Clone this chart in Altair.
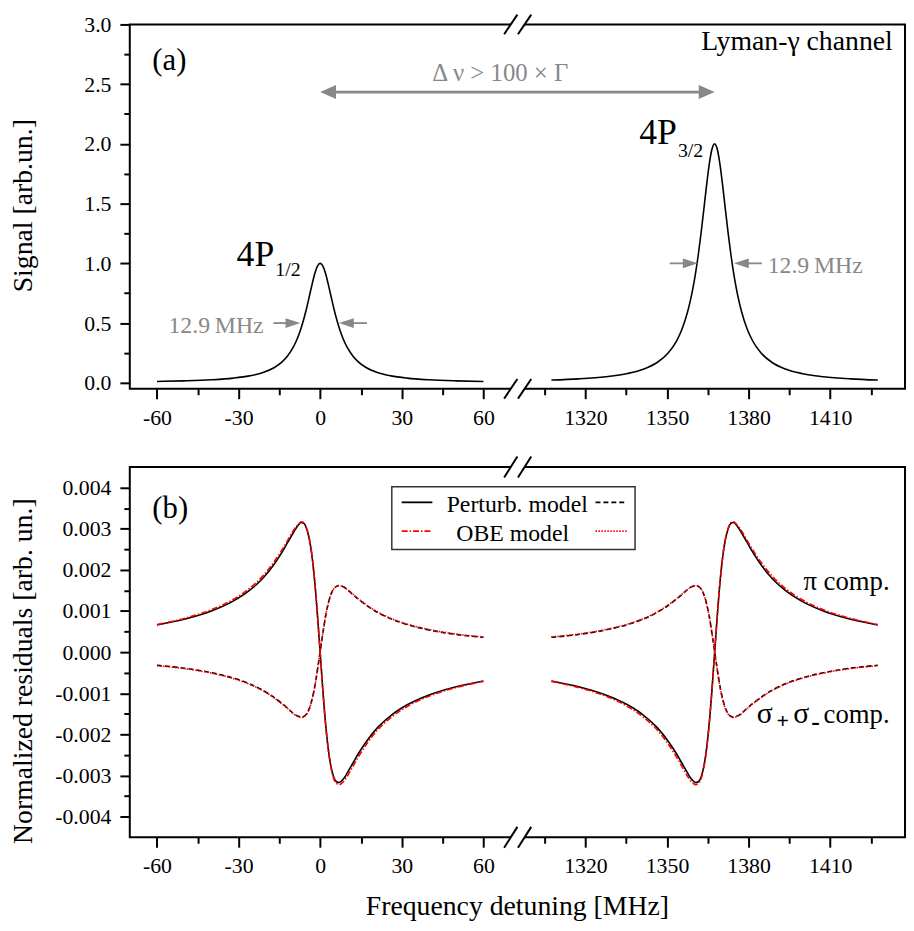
import altair as alt
import pandas as pd

FONT = "Liberation Serif"
GREY = "#888888"
RED = "#ff0000"

# ---------------- data ----------------
# detuning from line centre [MHz]
detuning = [-60, -50, -40, -32, -26, -21, -17, -14, -12, -10, -9, -8, -7, -6, -5, -4, -3, -2, -1, 0,
            1, 2, 3, 4, 5, 6, 7, 8, 9, 10, 12, 14, 17, 21, 26, 32, 40, 50, 60]
centre_4p12 = 0.0
centre_4p32 = 1367.5
break_shift = 1222.5  # gap removed by the broken axis (72.5 .. 1295 MHz)

signal_4p12 = [0.0114, 0.0164, 0.0253, 0.0390, 0.0580, 0.0862, 0.1258, 0.1751, 0.2241, 0.2938, 0.3393,
               0.3940, 0.4592, 0.5361, 0.6246, 0.7222, 0.8221, 0.9123, 0.9765, 1.0000, 0.9765, 0.9123,
               0.8221, 0.7222, 0.6246, 0.5361, 0.4592, 0.3940, 0.3393, 0.2938, 0.2241, 0.1751, 0.1258,
               0.0862, 0.0580, 0.0390, 0.0253, 0.0164, 0.0114]
signal_4p32 = [0.023, 0.033, 0.051, 0.078, 0.116, 0.172, 0.252, 0.350, 0.448, 0.588, 0.679, 0.788,
               0.918, 1.072, 1.249, 1.444, 1.644, 1.825, 1.953, 2.000, 1.953, 1.825, 1.644, 1.444,
               1.249, 1.072, 0.918, 0.788, 0.679, 0.588, 0.448, 0.350, 0.252, 0.172, 0.116, 0.078,
               0.051, 0.033, 0.023]

pi_pert_4p12 = [0.00066, 0.00080, 0.00100, 0.00124, 0.00150, 0.00180, 0.00213, 0.00243, 0.00266, 0.00289,
                0.00300, 0.00309, 0.00315, 0.00313, 0.00300, 0.00275, 0.00233, 0.00171, 0.00090, -0.00002,
                -0.00094, -0.00175, -0.00237, -0.00279, -0.00304, -0.00315, -0.00317, -0.00312, -0.00304,
                -0.00293, -0.00270, -0.00247, -0.00217, -0.00184, -0.00154, -0.00128, -0.00104, -0.00084,
                -0.00070]
pi_obe_4p12 = [0.00067, 0.00082, 0.00103, 0.00128, 0.00155, 0.00186, 0.00219, 0.00249, 0.00271, 0.00294,
               0.00303, 0.00311, 0.00317, 0.00315, 0.00302, 0.00276, 0.00234, 0.00171, 0.00090, -0.00002,
               -0.00095, -0.00176, -0.00239, -0.00282, -0.00308, -0.00319, -0.00322, -0.00318, -0.00311,
               -0.00301, -0.00278, -0.00255, -0.00224, -0.00190, -0.00159, -0.00132, -0.00107, -0.00086,
               -0.00071]
sig_pert_4p12 = [-0.00032, -0.00039, -0.00050, -0.00063, -0.00077, -0.00093, -0.00110, -0.00125, -0.00136,
                 -0.00148, -0.00153, -0.00156, -0.00158, -0.00156, -0.00150, -0.00137, -0.00115, -0.00084,
                 -0.00043, 0.00002, 0.00047, 0.00088, 0.00119, 0.00141, 0.00154, 0.00160, 0.00162, 0.00160,
                 0.00157, 0.00152, 0.00140, 0.00129, 0.00114, 0.00097, 0.00081, 0.00067, 0.00054, 0.00043,
                 0.00036]
sig_obe_4p12 = [-0.00033, -0.00040, -0.00051, -0.00064, -0.00078, -0.00094, -0.00111, -0.00126, -0.00137,
                -0.00149, -0.00154, -0.00157, -0.00159, -0.00157, -0.00151, -0.00138, -0.00116, -0.00085,
                -0.00043, 0.00002, 0.00047, 0.00088, 0.00119, 0.00141, 0.00154, 0.00160, 0.00162, 0.00160,
                0.00157, 0.00152, 0.00141, 0.00130, 0.00115, 0.00098, 0.00082, 0.00068, 0.00055, 0.00044,
                0.00037]
pi_pert_4p32 = [-0.00070, -0.00084, -0.00104, -0.00128, -0.00154, -0.00184, -0.00217, -0.00247, -0.00270,
                -0.00293, -0.00304, -0.00312, -0.00317, -0.00315, -0.00304, -0.00279, -0.00237, -0.00175,
                -0.00094, -0.00002, 0.00090, 0.00171, 0.00233, 0.00275, 0.00300, 0.00313, 0.00315, 0.00309,
                0.00300, 0.00289, 0.00266, 0.00243, 0.00213, 0.00180, 0.00150, 0.00124, 0.00100, 0.00080,
                0.00066]
pi_obe_4p32 = [-0.00071, -0.00086, -0.00107, -0.00132, -0.00159, -0.00190, -0.00224, -0.00255, -0.00278,
               -0.00301, -0.00311, -0.00318, -0.00322, -0.00319, -0.00308, -0.00282, -0.00239, -0.00176,
               -0.00095, -0.00002, 0.00090, 0.00171, 0.00234, 0.00276, 0.00302, 0.00315, 0.00317, 0.00311,
               0.00303, 0.00294, 0.00271, 0.00249, 0.00219, 0.00186, 0.00155, 0.00128, 0.00103, 0.00082,
               0.00067]
sig_pert_4p32 = [0.00036, 0.00043, 0.00054, 0.00067, 0.00081, 0.00097, 0.00114, 0.00129, 0.00140, 0.00152,
                 0.00157, 0.00160, 0.00162, 0.00160, 0.00154, 0.00141, 0.00119, 0.00088, 0.00047, 0.00002,
                 -0.00043, -0.00084, -0.00115, -0.00137, -0.00150, -0.00156, -0.00158, -0.00156, -0.00153,
                 -0.00148, -0.00136, -0.00125, -0.00110, -0.00093, -0.00077, -0.00063, -0.00050, -0.00039,
                 -0.00032]
sig_obe_4p32 = [0.00037, 0.00044, 0.00055, 0.00068, 0.00082, 0.00098, 0.00115, 0.00130, 0.00141, 0.00152,
                0.00157, 0.00160, 0.00162, 0.00160, 0.00154, 0.00141, 0.00119, 0.00088, 0.00047, 0.00002,
                -0.00043, -0.00085, -0.00116, -0.00138, -0.00151, -0.00157, -0.00159, -0.00157, -0.00154,
                -0.00149, -0.00137, -0.00126, -0.00111, -0.00094, -0.00078, -0.00064, -0.00051, -0.00040,
                -0.00033]

x_ticks_real = [-60, -45, -30, -15, 0, 15, 30, 45, 60, 1305, 1320, 1335, 1350, 1365, 1380, 1395, 1410, 1425]
y_ticks_top = [0, 0.25, 0.5, 0.75, 1.0, 1.25, 1.5, 1.75, 2.0, 2.25, 2.5, 2.75, 3.0]
y_ticks_bot = [-0.004, -0.0035, -0.003, -0.0025, -0.002, -0.0015, -0.001, -0.0005, 0.0,
               0.0005, 0.001, 0.0015, 0.002, 0.0025, 0.003, 0.0035, 0.004]


def disp(x):
    """position on the broken axis"""
    return x if x < 700 else x - break_shift


# ---------------- tables ----------------
top_rows = []
for seg, c, vals in (("L", centre_4p12, signal_4p12), ("R", centre_4p32, signal_4p32)):
    for d, v in zip(detuning, vals):
        top_rows.append({"xd": disp(c + d), "y": v, "seg": seg})
top_df = pd.DataFrame(top_rows)

bot_rows = []
for seg, c, comp, model, vals in (
    ("L", centre_4p12, "pi", "pert", pi_pert_4p12), ("L", centre_4p12, "pi", "obe", pi_obe_4p12),
    ("L", centre_4p12, "sig", "pert", sig_pert_4p12), ("L", centre_4p12, "sig", "obe", sig_obe_4p12),
    ("R", centre_4p32, "pi", "pert", pi_pert_4p32), ("R", centre_4p32, "pi", "obe", pi_obe_4p32),
    ("R", centre_4p32, "sig", "pert", sig_pert_4p32), ("R", centre_4p32, "sig", "obe", sig_obe_4p32),
):
    for d, v in zip(detuning, vals):
        bot_rows.append({"xd": disp(c + d), "y": v, "seg": seg, "comp": comp, "model": model})
bot_df = pd.DataFrame(bot_rows)

# ---------------- scales / axes ----------------
W = 783
H_TOP = 368
H_BOT = 374
XS = alt.Scale(domain=[-70, 215], nice=False, zero=False)
YS_TOP = alt.Scale(domain=[-0.05, 3.0], nice=False, zero=False)
YS_BOT = alt.Scale(domain=[-0.0045, 0.0045], nice=False, zero=False)

xreal = f"(datum.value < 80 ? datum.value : datum.value + {break_shift})"
x_major = f"{xreal} % 30 == 0"
x_vals = [disp(t) for t in x_ticks_real]

common_axis = dict(grid=False, domain=False, tickColor="black", tickWidth=2,
                   labelFont=FONT, labelFontSize=22, labelColor="black",
                   titleFont=FONT, titleFontSize=28, titleFontWeight="normal", titleColor="black")


def x_axis(title):
    kw = dict(common_axis)
    kw.update(values=x_vals, labelExpr=f"{x_major} ? '' + {xreal} : ''",
              tickSize={"condition": {"test": x_major, "value": 10}, "value": 6},
              labelPadding=9, labelFlush=False, labelOverlap=False)
    if title:
        kw.update(title=title, titleX=391, titleY=77.5, titleBaseline="alphabetic", titleAlign="center")
    else:
        kw.update(title=None)
    return alt.Axis(**kw)


XA_TOP = x_axis(None)
XA_BOT = x_axis("Frequency detuning [MHz]")

YA_TOP = alt.Axis(values=y_ticks_top, title="Signal [arb.un.]",
                  labelExpr="datum.value % 0.5 == 0 ? format(datum.value, '.1f') : ''",
                  tickSize={"condition": {"test": "datum.value % 0.5 == 0", "value": 10}, "value": 6},
                  labelPadding=9, labelOverlap=False, titleX=-99, titleY=182.6,
                  titleBaseline="alphabetic", titleAlign="center", titleAngle=270, **common_axis)
YA_BOT = alt.Axis(values=y_ticks_bot, title="Normalized residuals [arb. un.]",
                  labelExpr="round(datum.value * 10000) % 10 == 0 ? replace(format(datum.value, '.3f'), '\u2212', '-') : ''",
                  tickSize={"condition": {"test": "round(datum.value * 10000) % 10 == 0", "value": 10}, "value": 6},
                  labelPadding=9, labelOverlap=False, titleX=-99, titleY=205.7,
                  titleBaseline="alphabetic", titleAlign="center", titleAngle=270, **common_axis)


def text_layers(df, ys, xa, ya):
    out = []
    for (align, weight), sub in df.groupby(["align", "weight"]):
        out.append(alt.Chart(sub).mark_text(align=align, baseline="alphabetic", font=FONT,
                                            fontWeight=weight).encode(
            x=alt.X("x:Q", scale=XS, axis=xa), y=alt.Y("y:Q", scale=ys, axis=ya),
            text="text:N", size=alt.Size("fs:Q", scale=None), color=alt.Color("color:N", scale=None)))
    return out


def break_layers(ys, xa, ya, borders, half_h):
    c1, c2, hw = 70.06, 75.15, 2.44
    gap = pd.DataFrame([{"x": c1, "x2": c2, "y": b} for b in borders])
    sl = pd.DataFrame([{"x": c - hw, "x2": c + hw, "y": b - half_h, "y2": b + half_h}
                       for b in borders for c in (c1, c2)])
    g = alt.Chart(gap).mark_rule(color="white", strokeWidth=5).encode(
        x=alt.X("x:Q", scale=XS, axis=xa), x2="x2:Q", y=alt.Y("y:Q", scale=ys, axis=ya))
    s = alt.Chart(sl).mark_rule(color="black", strokeWidth=2).encode(
        x=alt.X("x:Q", scale=XS, axis=xa), x2="x2:Q", y=alt.Y("y:Q", scale=ys, axis=ya), y2="y2:Q")
    return [g, s]


# ---------------- panel (a) ----------------
top_curve = alt.Chart(top_df).mark_line(color="black", strokeWidth=1.6, interpolate="monotone").encode(
    x=alt.X("xd:Q", scale=XS, axis=XA_TOP), y=alt.Y("y:Q", scale=YS_TOP, axis=YA_TOP), detail="seg:N")

arrow_y = 2.434
arrow_big = pd.DataFrame([{"x": 3, "x2": disp(centre_4p32) - 3, "y": arrow_y}])
arrow_small = pd.DataFrame([
    {"x": -17.2, "x2": -9.3, "y": 0.5}, {"x": 8.9, "x2": 17.2, "y": 0.5},
    {"x": 128.5, "x2": 136.8, "y": 1.0}, {"x": 154.1, "x2": 162.4, "y": 1.0},
])
heads = pd.DataFrame([
    {"x": 0, "y": arrow_y, "dir": "L", "kind": "big"},
    {"x": disp(centre_4p32), "y": arrow_y, "dir": "R", "kind": "big"},
    {"x": -7.3, "y": 0.5, "dir": "R", "kind": "small"}, {"x": 6.9, "y": 0.5, "dir": "L", "kind": "small"},
    {"x": 138.8, "y": 1.0, "dir": "R", "kind": "small"}, {"x": 152.1, "y": 1.0, "dir": "L", "kind": "small"},
])
SHAPES = {("L", "big"): "M0,0L2,-0.875L2,0.875Z", ("R", "big"): "M0,0L-2,-0.875L-2,0.875Z",
          ("L", "small"): "M0,0L2,-0.667L2,0.667Z", ("R", "small"): "M0,0L-2,-0.667L-2,0.667Z"}
SIZES = {"big": 256, "small": 225}

top_layers = [top_curve]
top_layers.append(alt.Chart(arrow_big).mark_rule(color=GREY, strokeWidth=2.7).encode(
    x=alt.X("x:Q", scale=XS, axis=XA_TOP), x2="x2:Q", y=alt.Y("y:Q", scale=YS_TOP, axis=YA_TOP)))
top_layers.append(alt.Chart(arrow_small).mark_rule(color=GREY, strokeWidth=1.8).encode(
    x=alt.X("x:Q", scale=XS, axis=XA_TOP), x2="x2:Q", y=alt.Y("y:Q", scale=YS_TOP, axis=YA_TOP)))
for (dr, kind), sub in heads.groupby(["dir", "kind"]):
    top_layers.append(alt.Chart(sub).mark_point(shape=SHAPES[(dr, kind)], size=SIZES[kind], filled=True,
                                                color=GREY, opacity=1, strokeWidth=0).encode(
        x=alt.X("x:Q", scale=XS, axis=XA_TOP), y=alt.Y("y:Q", scale=YS_TOP, axis=YA_TOP)))

top_text = pd.DataFrame([
    {"x": -61.7, "y": 2.619, "text": "(a)", "fs": 31, "color": "black", "align": "left", "weight": "normal"},
    {"x": 210.5, "y": 2.785, "text": "Lyman-\u03b3 channel", "fs": 28, "color": "black", "align": "right", "weight": "normal"},
    {"x": 66.2, "y": 2.528, "text": "\u0394 \u03bd > 100 \u00d7 \u0393", "fs": 25, "color": GREY, "align": "center", "weight": "normal"},
    {"x": -16.9, "y": 0.975, "text": "4P", "fs": 36, "color": "black", "align": "right", "weight": "normal"},
    {"x": -16.5, "y": 0.893, "text": "1/2", "fs": 20, "color": "black", "align": "left", "weight": "normal"},
    {"x": 131.1, "y": 1.997, "text": "4P", "fs": 36, "color": "black", "align": "right", "weight": "normal"},
    {"x": 131.5, "y": 1.894, "text": "3/2", "fs": 20, "color": "black", "align": "left", "weight": "normal"},
    {"x": -20.8, "y": 0.416, "text": "12.9\u2009MHz", "fs": 24, "color": GREY, "align": "right", "weight": "normal"},
    {"x": 164.5, "y": 0.921, "text": "12.9\u2009MHz", "fs": 24, "color": GREY, "align": "left", "weight": "normal"},
])
top_layers += text_layers(top_text, YS_TOP, XA_TOP, YA_TOP)
top_layers += break_layers(YS_TOP, XA_TOP, YA_TOP, [3.0, -0.05], 0.082)

top = alt.layer(*top_layers).properties(width=W, height=H_TOP)

# ---------------- panel (b) ----------------
STYLES = [("pi", "pert", "black", None), ("sig", "pert", "black", [5, 3]),
          ("pi", "obe", RED, [6, 2, 1.5, 2]), ("sig", "obe", RED, [1.5, 1.5])]
bot_layers = []
for comp, model, col, dash in STYLES:
    sub = bot_df[(bot_df.comp == comp) & (bot_df.model == model)]
    kw = dict(color=col, strokeWidth=1.6, interpolate="monotone")
    if dash:
        kw["strokeDash"] = dash
    bot_layers.append(alt.Chart(sub).mark_line(**kw).encode(
        x=alt.X("xd:Q", scale=XS, axis=XA_BOT), y=alt.Y("y:Q", scale=YS_BOT, axis=YA_BOT), detail="seg:N"))

legend_box = pd.DataFrame([{"x": 26.33, "x2": 115.76, "y": 0.002493, "y2": 0.004019}])
bot_layers.append(alt.Chart(legend_box).mark_rect(fill="white", stroke="#333333", strokeWidth=1.5).encode(
    x=alt.X("x:Q", scale=XS, axis=XA_BOT), x2="x2:Q", y=alt.Y("y:Q", scale=YS_BOT, axis=YA_BOT), y2="y2:Q"))
legend_samples = [
    ({"x": 29.97, "x2": 41.24, "y": 0.003641}, "black", None),
    ({"x": 101.21, "x2": 112.74, "y": 0.003641}, "black", [5, 3]),
    ({"x": 29.97, "x2": 41.24, "y": 0.002943}, RED, [6, 2, 1.5, 2]),
    ({"x": 101.21, "x2": 112.74, "y": 0.002943}, RED, [1.5, 1.5]),
]
for row, col, dash in legend_samples:
    kw = dict(color=col, strokeWidth=1.8)
    if dash:
        kw["strokeDash"] = dash
    bot_layers.append(alt.Chart(pd.DataFrame([row])).mark_rule(**kw).encode(
        x=alt.X("x:Q", scale=XS, axis=XA_BOT), x2="x2:Q", y=alt.Y("y:Q", scale=YS_BOT, axis=YA_BOT)))

bot_text = pd.DataFrame([
    {"x": -61.7, "y": 0.003263, "text": "(b)", "fs": 31, "color": "black", "align": "left", "weight": "normal"},
    {"x": 72.43, "y": 0.003417, "text": "Perturb. model", "fs": 24, "color": "black", "align": "center", "weight": "normal"},
    {"x": 70.79, "y": 0.002695, "text": "OBE model", "fs": 24, "color": "black", "align": "center", "weight": "normal"},
    {"x": 209.36, "y": 0.001516, "text": "\u03c0 comp.", "fs": 27, "color": "black", "align": "right", "weight": "normal"},
    {"x": 209.36, "y": -0.001725, "text": "comp.", "fs": 27, "color": "black", "align": "right", "weight": "normal"},
    {"x": 160.5, "y": -0.001725, "text": "\u03c3", "fs": 30, "color": "black", "align": "left", "weight": "normal"},
    {"x": 173.87, "y": -0.001725, "text": "\u03c3", "fs": 30, "color": "black", "align": "left", "weight": "normal"},
    {"x": 167.8, "y": -0.001834, "text": "+", "fs": 22, "color": "black", "align": "left", "weight": "bold"},
    {"x": 180.53, "y": -0.001894, "text": "-", "fs": 26, "color": "black", "align": "left", "weight": "bold"},
])
bot_layers += text_layers(bot_text, YS_BOT, XA_BOT, YA_BOT)
bot_layers += break_layers(YS_BOT, XA_BOT, YA_BOT, [0.0045, -0.0045], 0.000253)

bottom = alt.layer(*bot_layers).properties(width=W, height=H_BOT)

chart = alt.vconcat(top, bottom, spacing=25).properties(
    padding={"left": 0, "top": 0, "right": 0, "bottom": 0},
    background="white",
).configure_view(stroke="black", strokeWidth=2)

chart.save("out.html", embed_options={"renderer": "svg", "actions": False})
